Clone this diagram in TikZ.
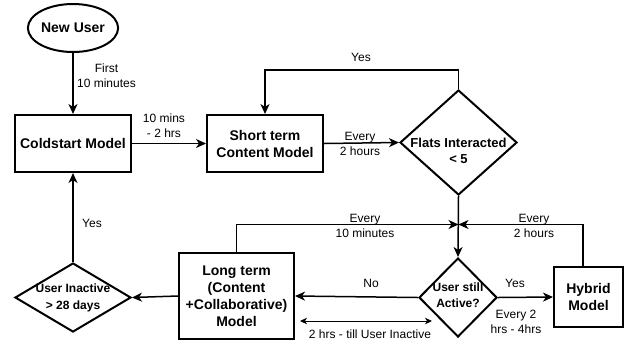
\documentclass[tikz,border=0pt]{standalone}
\usepackage{fontspec}
\setmainfont{Liberation Sans}
\usetikzlibrary{shapes.geometric,arrows.meta}
\tikzset{
  box/.style={draw, line width=2pt, rectangle, inner sep=0pt, align=center, font=\fontsize{14}{17}\selectfont\bfseries},
  dia/.style={draw, line width=2pt, diamond, inner sep=0pt, aspect=1},
  dtext/.style={align=center, inner sep=0pt},
  arr/.style={line width=1.5pt, -{Stealth[length=10pt,width=9pt,inset=3pt]}},
  darr/.style={line width=1pt, {Stealth[length=7pt,width=6.5pt,inset=2pt]}-{Stealth[length=7pt,width=6.5pt,inset=2pt]}},
  lab/.style={align=center, inner sep=0pt, font=\fontsize{12}{15}\selectfont}
}
\begin{document}
\begin{tikzpicture}[x=1pt,y=-1pt]
\useasboundingbox (0,0) rectangle (628,341);
% nodes
\node[ellipse, draw, line width=2pt, minimum width=78pt, minimum height=48pt, inner sep=0pt, font=\fontsize{14}{17}\selectfont\bfseries] (new) at (73,28) {New User};
\node[box, minimum width=116pt, minimum height=57pt] (cold) at (73,143.5) {Coldstart Model};
\node[box, minimum width=116pt, minimum height=57pt] (short) at (265,143.5) {Short term\\Content Model};
\node[dia, minimum width=117pt, minimum height=105pt] (flats) at (458.5,142.5) {};
\node[dtext, font=\fontsize{13}{16}\selectfont\bfseries] (flatst) at (458.5,151) {Flats Interacted\\< 5};
\node[dia, minimum width=78pt, minimum height=79pt] (active) at (458,297.5) {};
\node[dtext, font=\fontsize{12}{16}\selectfont\bfseries] (activet) at (458,295) {User still\\Active?};
\node[box, minimum width=69pt, minimum height=60pt] (hyb) at (588.5,297) {Hybrid\\Model};
\node[box, minimum width=115pt, minimum height=86pt] (long) at (236.5,296) {Long term\\(Content\\+Collaborative)\\Model};
\node[dia, minimum width=116pt, minimum height=69pt] (inact) at (73,297.5) {};
\node[dtext, font=\fontsize{12}{17}\selectfont\bfseries] (inactt) at (73,298) {User Inactive\\> 28 days};
\coordinate (j) at (458.5,224.5);
\coordinate (d1) at (300,321);
\coordinate (d2) at (432,321);
% connectors
\draw[arr] (new) -- (cold);
\draw[arr] (cold.east) -- (short.west);
\draw[arr] (short.east) -- (flats.west);
\draw[arr] (flats.north) -- (flats.north |- 0,70) -| (short.north);
\draw[arr] (flats.south) -- (active.north);
\draw[arr] (long.north) |- (j);
\draw[arr] (hyb.north -| 583,0) |- (j);
\draw[arr] (active.west) -- (long.east);
\draw[arr] (active.east) -- (hyb.west);
\draw[arr] (long.west) -- (inact.east);
\draw[arr] (inact.north) -- (cold.south);
\draw[darr] (d1) -- (d2);
% labels
\node[lab] (l1) at (106.5,75.5) {First\\10 minutes};
\node[lab] (l2) at (164,126) {10 mins\\- 2 hrs};
\node[lab] (l3) at (361,57) {Yes};
\node[lab] (l4) at (360,143.5) {Every\\2 hours};
\node[lab] (l5) at (365,225.5) {Every\\10 minutes};
\node[lab] (l6) at (534,225.5) {Every\\2 hours};
\node[lab] (l7) at (371,283) {No};
\node[lab] (l8) at (515,283) {Yes};
\node[lab] (l9) at (516,321.5) {Every 2\\hrs - 4hrs};
\node[lab] (l10) at (370,334) {2 hrs - till User Inactive};
\node[lab] (l11) at (92,223) {Yes};
\end{tikzpicture}
\end{document}
